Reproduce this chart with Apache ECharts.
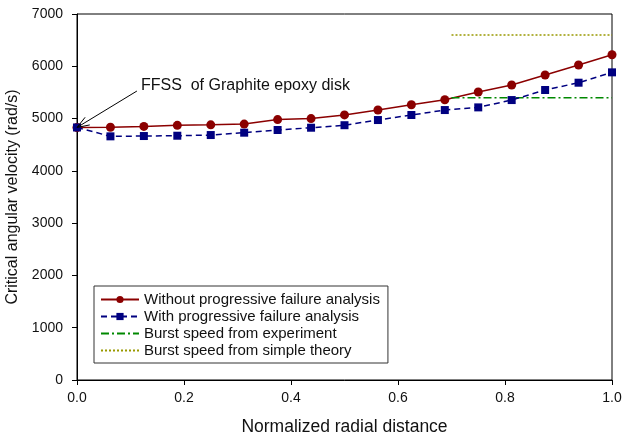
<!DOCTYPE html>
<html><head><meta charset="utf-8">
<script src="https://cdn.jsdelivr.net/npm/echarts@6/dist/echarts.min.js"></script>
<style>html,body{margin:0;padding:0;background:#fff}#c{width:623px;height:437px}</style>
</head><body><div id="c"></div>
<script>
const xPos = [0, 0.0625, 0.125, 0.1875, 0.25, 0.3125, 0.375, 0.4375, 0.5, 0.5625, 0.625, 0.6875, 0.75, 0.8125, 0.875, 0.9375, 1.0];
const withoutPFA = [4830, 4835, 4850, 4870, 4880, 4895, 4980, 5000, 5070, 5163, 5265, 5360, 5508, 5642, 5833, 6024, 6221];
const withPFA = [4830, 4660, 4666, 4672, 4685, 4730, 4781, 4825, 4873, 4972, 5068, 5163, 5214, 5354, 5546, 5686, 5884];
const burstExpX = [0.7, 1.0];
const burstExp = [5400, 5400];
const burstTheoryX = [0.7, 1.0];
const burstTheory = [6600, 6600];
const names = ['Without progressive failure analysis','With progressive failure analysis','Burst speed from experiment','Burst speed from simple theory'];
const annoText = 'FFSS  of Graphite epoxy disk';
const annoFrom = [0.112, 5527];
const annoTo = [0, 4830];

const zip = (a,b)=>a.map((v,i)=>[v,b[i]]);
const font = 'Liberation Sans, Arial, sans-serif';
const chart = echarts.init(document.getElementById('c'), null, {renderer:'canvas'});
chart.setOption({
  animation:false,
  backgroundColor:'#fff',
  grid:{left:77,right:11,top:14,bottom:57,show:true,borderColor:'#000',borderWidth:1,containLabel:false,outerBoundsMode:'none'},
  legend:{
    orient:'vertical', left:94, top:286, itemWidth:38, itemHeight:9, itemGap:2,
    borderColor:'#333', borderWidth:1, padding:[6,8,5,6],
    textStyle:{fontFamily:font,fontSize:15,color:'#111'},
    data:[
      {name:names[0]},
      {name:names[1]},
      {name:names[2],itemStyle:{opacity:0}},
      {name:names[3],itemStyle:{opacity:0}}
    ]
  },
  xAxis:{type:'value',min:0,max:1,interval:0.2,
    name:'Normalized radial distance',nameLocation:'middle',nameGap:38,
    nameTextStyle:{fontFamily:font,fontSize:17.5,color:'#111'},
    axisLine:{lineStyle:{color:'#000',width:1}},
    axisTick:{show:true,length:5,lineStyle:{color:'#000'}},
    axisLabel:{fontFamily:font,fontSize:14,color:'#111',margin:11,formatter:v=>v.toFixed(1)},
    splitLine:{show:false}},
  yAxis:{type:'value',min:0,max:7000,interval:1000,
    name:'Critical angular velocity (rad/s)',nameLocation:'middle',nameGap:54,
    nameTextStyle:{fontFamily:font,fontSize:16,color:'#111'},
    axisLine:{show:true,lineStyle:{color:'#000',width:1}},
    axisTick:{show:true,length:5,lineStyle:{color:'#000'}},
    axisLabel:{fontFamily:font,fontSize:14,color:'#111',margin:14,formatter:v=>String(v)},
    splitLine:{show:false}},
  series:[
    {name:names[0],type:'line',data:zip(xPos,withoutPFA),symbol:'circle',symbolSize:9,
     itemStyle:{color:'#8b0000'},lineStyle:{color:'#8b0000',width:1.5},z:3},
    {name:names[1],type:'line',data:zip(xPos,withPFA),symbol:'rect',symbolSize:8,
     itemStyle:{color:'#000080'},lineStyle:{color:'#000080',width:1.5,type:[6,4]},z:4},
    {name:names[2],type:'line',data:zip(burstExpX,burstExp),symbol:'none',
     itemStyle:{color:'#008800'},lineStyle:{color:'#008800',width:1.5,type:[8,3,2,3]}},
    {name:names[3],type:'line',data:zip(burstTheoryX,burstTheory),symbol:'none',
     itemStyle:{color:'#999900'},lineStyle:{color:'#999900',width:1.5,type:[2,2]}}
  ]
});
const p0 = chart.convertToPixel({gridIndex:0}, annoFrom);
const p1 = chart.convertToPixel({gridIndex:0}, annoTo);
const ang = Math.atan2(p1[1]-p0[1], p1[0]-p0[0]);
const L = 13, spread = 0.35;
const h1 = [p1[0]-L*Math.cos(ang-spread), p1[1]-L*Math.sin(ang-spread)];
const h2 = [p1[0]-L*Math.cos(ang+spread), p1[1]-L*Math.sin(ang+spread)];
chart.setOption({graphic:[
  {type:'polyline',shape:{points:[p0,p1]},style:{stroke:'#000',lineWidth:1},z:10},
  {type:'polyline',shape:{points:[h1,p1,h2]},style:{stroke:'#000',lineWidth:1,fill:null},z:10},
  {type:'text',left:p0[0]+4,top:p0[1]-13,style:{text:annoText,fontFamily:font,fontSize:16,fill:'#111'},z:10}
]});
</script></body></html>
